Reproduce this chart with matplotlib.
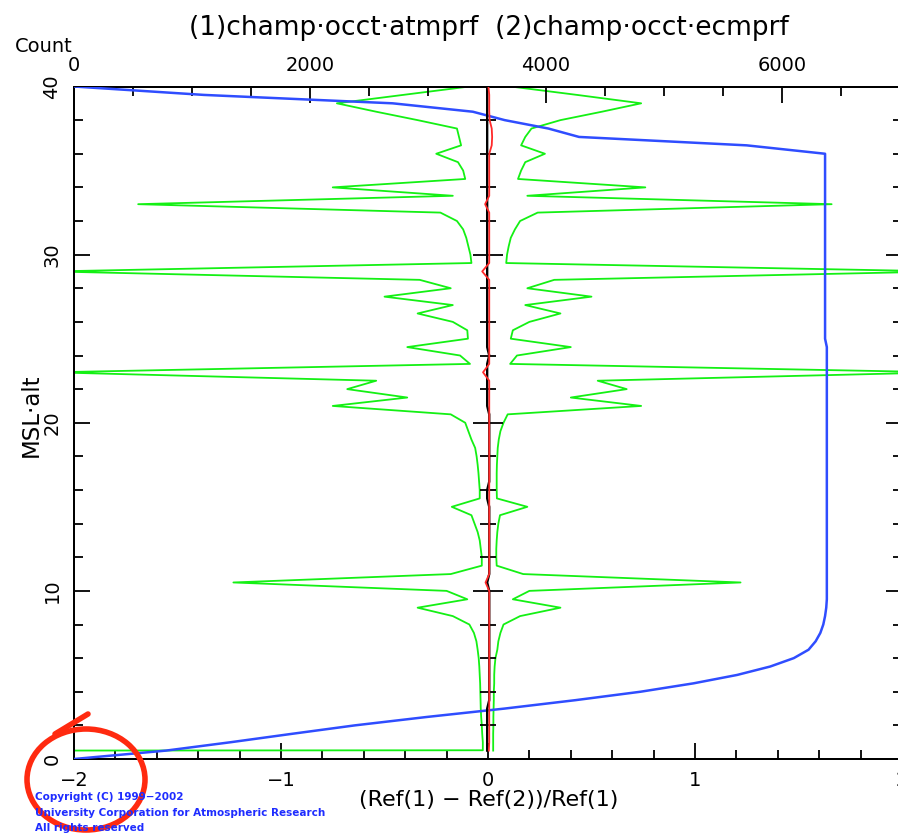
import matplotlib
matplotlib.use('Agg')
import matplotlib.pyplot as plt
from matplotlib.ticker import MultipleLocator
from matplotlib.patches import Ellipse
from matplotlib.lines import Line2D

# ---------------- data ----------------
alt = [0.5, 0.52, 1.0, 1.5, 2.0, 2.5, 3.0, 3.5, 4.0, 4.5, 5.0,
       5.5, 6.0, 6.5, 7.0, 7.5, 8.0, 8.5, 9.0, 9.5, 10.0,
       10.5, 11.0, 11.5, 12.0, 12.5, 13.0, 13.5, 14.0, 14.5, 15.0,
       15.5, 16.0, 16.5, 17.0, 17.5, 18.0, 18.5, 19.0, 19.5, 20.0,
       20.5, 21.0, 21.5, 22.0, 22.5, 23.0, 23.5, 24.0, 24.5, 25.0,
       25.5, 26.0, 26.5, 27.0, 27.5, 28.0, 28.5, 29.0, 29.5, 30.0,
       30.5, 31.0, 31.5, 32.0, 32.5, 33.0, 33.5, 34.0, 34.5, 35.0,
       35.5, 36.0, 36.5, 37.0, 37.5, 38.0, 38.5, 39.0, 39.5, 40.0]

# mean - std (left green envelope)
green_left = [-2.300, -0.025, -0.025, -0.028, -0.030, -0.033, -0.035, -0.036, -0.037, -0.038, -0.040,
              -0.042, -0.045, -0.050, -0.056, -0.068, -0.090, -0.170, -0.340, -0.100, -0.200,
              -1.230, -0.180, -0.030, -0.030, -0.035, -0.040, -0.050, -0.065, -0.080, -0.175,
              -0.040, -0.040, -0.043, -0.046, -0.050, -0.055, -0.062, -0.080, -0.095, -0.110,
              -0.180, -0.750, -0.390, -0.680, -0.540, -2.100, -0.087, -0.135, -0.390, -0.097,
              -0.100, -0.170, -0.340, -0.170, -0.500, -0.180, -0.330, -2.100, -0.080, -0.085,
              -0.095, -0.105, -0.120, -0.150, -0.230, -1.690, -0.170, -0.750, -0.110, -0.120,
              -0.145, -0.250, -0.130, -0.140, -0.150, -0.340, -0.540, -0.730, -0.410, -0.090]

# mean + std (right green envelope)
green_right = [0.025, 0.025, 0.025, 0.025, 0.026, 0.026, 0.027, 0.028, 0.028, 0.030, 0.030,
               0.032, 0.036, 0.045, 0.050, 0.060, 0.075, 0.155, 0.350, 0.120, 0.200,
               1.220, 0.170, 0.042, 0.040, 0.040, 0.042, 0.045, 0.050, 0.058, 0.190,
               0.043, 0.042, 0.042, 0.042, 0.043, 0.045, 0.047, 0.052, 0.060, 0.075,
               0.095, 0.740, 0.400, 0.670, 0.530, 2.200, 0.107, 0.140, 0.400, 0.110,
               0.120, 0.200, 0.350, 0.180, 0.500, 0.190, 0.320, 2.200, 0.088, 0.092,
               0.100, 0.110, 0.130, 0.155, 0.240, 1.660, 0.190, 0.760, 0.145, 0.160,
               0.180, 0.275, 0.160, 0.180, 0.210, 0.350, 0.550, 0.740, 0.430, 0.110]

# median (red)
red_line = [0.004, 0.004, 0.006, 0.006, 0.006, 0.006, 0.006, 0.006, 0.006, 0.006, 0.006,
            0.006, 0.006, 0.006, 0.006, 0.006, 0.006, 0.006, 0.006, 0.006, 0.006,
            -0.012, 0.006, 0.006, 0.006, 0.006, 0.006, 0.006, 0.006, 0.006, 0.006,
            0.006, 0.006, 0.006, 0.006, 0.006, 0.006, 0.006, 0.006, 0.006, 0.006,
            0.006, 0.006, 0.006, 0.006, 0.006, -0.024, 0.006, 0.006, 0.006, 0.006,
            0.006, 0.006, 0.006, 0.006, 0.006, 0.006, 0.006, -0.028, 0.006, 0.006,
            0.006, 0.006, 0.006, 0.006, 0.006, -0.014, 0.006, 0.006, 0.006, 0.006,
            0.006, 0.006, 0.018, 0.020, 0.018, 0.008, 0.006, 0.006, 0.006, 0.002]

# mean (black)
black_line = [-0.004, -0.004, -0.004, -0.004, -0.004, -0.004, -0.004, 0.006, 0.006, 0.006, 0.006,
              0.006, 0.006, 0.006, 0.006, 0.006, 0.006, 0.006, 0.006, 0.006, 0.006,
              -0.004, 0.006, 0.006, 0.006, 0.006, 0.006, 0.006, 0.006, 0.006, 0.006,
              -0.004, -0.004, 0.006, 0.006, 0.006, 0.006, 0.006, 0.006, 0.006, 0.006,
              0.006, -0.004, -0.004, -0.004, -0.004, -0.004, -0.004, 0.006, -0.004, -0.004,
              -0.004, -0.004, -0.004, -0.004, -0.004, -0.004, -0.004, -0.004, -0.004, -0.004,
              -0.004, -0.004, -0.004, -0.004, -0.004, -0.004, -0.004, -0.004, -0.004, -0.004,
              -0.004, -0.004, -0.004, -0.004, -0.004, -0.004, -0.004, -0.004, -0.004, -0.004]

# number of profiles (blue, top axis)
count_alt = [0.0, 0.5, 1.0, 1.5, 2.0, 2.5, 3.0, 3.5, 4.0, 4.5, 5.0, 5.5, 6.0, 6.5,
             7.0, 7.5, 8.0, 8.5, 9.0, 9.5, 24.5, 25.0, 36.0, 36.5, 37.0, 37.5,
             38.0, 38.5, 39.0, 39.5, 40.0]
counts = [0, 780, 1330, 1850, 2380, 2990, 3650, 4250, 4800, 5250, 5620, 5900, 6100, 6225,
          6285, 6325, 6350, 6365, 6375, 6380, 6380, 6365, 6365, 5700, 4280, 4020,
          3650, 3380, 2700, 1100, 0]

bottom_ticks = [-2, -1, 0, 1, 2]
top_ticks = [0, 2000, 4000, 6000]
y_ticks = [0, 10, 20, 30, 40]

title = "(1)champ\u00b7occt\u00b7atmprf  (2)champ\u00b7occt\u00b7ecmprf"
xlabel = "(Ref(1) \u2212 Ref(2))/Ref(1)"
ylabel = "MSL\u00b7alt"
toplabel = "Count"
copyright_lines = ["Copyright (C) 1999\u22122002",
                   "University Corporation for Atmospheric Research",
                   "All rights reserved"]

# ---------------- style ----------------
GREEN = '#14f014'
BLUE = '#2f4dff'
RED = '#ff2a2a'
MARK = '#ff2a10'
COPY = '#1e2cff'

W, H = 898, 833
plt.rcParams['font.family'] = ['DejaVu Sans']
fig = plt.figure(figsize=(W / 100, H / 100), dpi=100)
rect = [74 / W, (H - 759) / H, 828 / W, 672.5 / H]

ax = fig.add_axes(rect)
ax.set_xlim(-2, 2)
ax.set_ylim(0, 40)
ax.plot(green_left, alt, color=GREEN, lw=1.3, zorder=2)
ax.plot(green_right, alt, color=GREEN, lw=1.3, zorder=2)
for s in ax.spines.values():
    s.set_linewidth(1.4)

ax2 = ax.twiny()
ax2.set_xlim(0, 7017)
ax2.plot(counts, count_alt, color=BLUE, lw=1.8, zorder=3)

ax.set_xticks(bottom_ticks)
ax.xaxis.set_minor_locator(MultipleLocator(0.2))
ax.set_yticks(y_ticks)
ax.yaxis.set_minor_locator(MultipleLocator(2))
ax.tick_params(which='both', direction='in', bottom=True, top=False,
               left=True, right=True, labelbottom=True, labeltop=False,
               labelleft=True, width=1.3, labelsize=14)
ax.tick_params(which='major', length=11.5, pad=9)
ax.tick_params(which='minor', length=6.5)
for lab in ax.get_yticklabels():
    lab.set_rotation(90)
    lab.set_va('center')

ax2.set_xticks(top_ticks)
ax2.xaxis.set_minor_locator(MultipleLocator(500))
ax2.tick_params(axis='x', which='both', direction='in', top=True, bottom=False,
                labeltop=True, labelbottom=False, width=1.3, labelsize=14)
ax2.tick_params(axis='x', which='major', length=11.5, pad=8)
ax2.tick_params(axis='x', which='minor', length=6.5)
for s in ax2.spines.values():
    s.set_linewidth(1.4)

# central zero axis with mean / median
ax3 = fig.add_axes(rect, label='center')
ax3.set_xlim(-2, 2)
ax3.set_ylim(0, 40)
ax3.patch.set_visible(False)
for k in ['top', 'right', 'bottom']:
    ax3.spines[k].set_visible(False)
ax3.spines['left'].set_position(('data', 0))
ax3.spines['left'].set_visible(False)
ax3.xaxis.set_visible(False)
ax3.set_yticks(y_ticks)
ax3.yaxis.set_minor_locator(MultipleLocator(2))
ax3.tick_params(axis='y', which='both', direction='inout', labelleft=False, width=1.3)
ax3.tick_params(axis='y', which='major', length=21)
ax3.tick_params(axis='y', which='minor', length=11)
ax3.plot(black_line, alt, color='black', lw=1.7, zorder=3)
ax3.plot(red_line, alt, color=RED, lw=1.3, zorder=4)

# texts
fig.text(488.5 / W, 1 - 28 / H, title, ha='center', va='center', fontsize=19)
fig.text(44 / W, 1 - 46 / H, toplabel, ha='center', va='center', fontsize=14)
fig.text(31 / W, 1 - 415 / H, ylabel, ha='center', va='center', rotation=90, fontsize=16.5)
fig.text(489 / W, 1 - 800 / H, xlabel, ha='center', va='center', fontsize=16)
for i, line in enumerate(copyright_lines):
    fig.text(35 / W, 1 - (797 + 15.5 * i) / H, line, ha='left', va='center',
             fontsize=7.5, fontweight='bold', color=COPY)

# hand-drawn red circle annotation
fig.add_artist(Ellipse((86 / W, 1 - 779.5 / H), 118 / W, 101 / H, fill=False,
                       edgecolor=MARK, lw=4, transform=fig.transFigure))
fig.add_artist(Line2D([88 / W, 55 / W], [1 - 714 / H, 1 - 734 / H], color=MARK, lw=4,
                      solid_capstyle='round', transform=fig.transFigure))

fig.savefig('out.png', dpi=100)
